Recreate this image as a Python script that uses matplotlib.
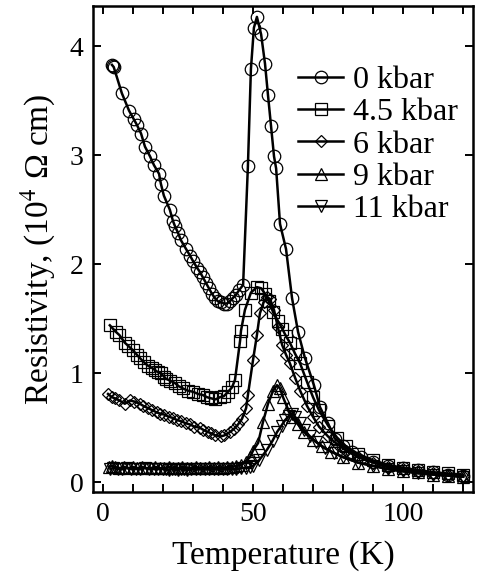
import matplotlib.pyplot as plt
from matplotlib.ticker import MultipleLocator

plt.rcParams['font.family'] = ['Liberation Serif', 'DejaVu Serif']
plt.rcParams['mathtext.fontset'] = 'stix'

# 0 kbar
t0 = [3.0, 3.3, 3.6, 6.3, 8.7, 10.3, 11.3, 12.7, 14.0, 15.7, 17.0, 18.7, 19.3, 20.3,
      22.3, 23.3, 24.0, 25.0, 26.0, 27.7, 29.0, 30.0, 31.3, 32.3, 33.3, 34.3, 35.3,
      36.3, 37.3, 38.3, 39.3, 40.3, 41.3, 42.3, 43.3, 44.3, 45.3, 46.7, 48.3, 49.3,
      50.3, 51.3, 52.7, 54.0, 55.0, 56.0, 57.0, 57.7, 59.0, 61.0, 63.0, 65.0, 67.3,
      70.3, 72.3, 75.0, 77.3, 80.0, 83.0, 86.0, 90.0, 95.0, 100.0, 105.0, 110.0,
      115.0, 120.0]
r0 = [3.83, 3.82, 3.81, 3.57, 3.41, 3.33, 3.28, 3.20, 3.08, 2.99, 2.91, 2.83, 2.74, 2.63,
      2.50, 2.40, 2.35, 2.29, 2.22, 2.14, 2.08, 2.03, 1.97, 1.93, 1.88, 1.83, 1.78,
      1.73, 1.69, 1.66, 1.65, 1.64, 1.64, 1.66, 1.69, 1.72, 1.76, 1.81, 2.90, 3.79,
      4.17, 4.27, 4.11, 3.84, 3.55, 3.27, 2.99, 2.88, 2.37, 2.14, 1.69, 1.38, 1.14,
      0.89, 0.69, 0.54, 0.40, 0.33, 0.28, 0.23, 0.19, 0.15, 0.13, 0.11, 0.09,
      0.07, 0.06]

# 4.5 kbar
t45 = [2.3, 4.3, 5.5, 7.3, 8.5, 10.0, 11.3, 12.3, 13.7, 15.0, 16.3, 17.3, 18.3, 19.3,
       20.3, 21.0, 22.5, 24.0, 25.3, 26.7, 28.3, 30.0, 31.7, 33.3, 34.7, 36.0, 37.5,
       39.0, 40.3, 41.7, 43.0, 44.0, 45.7, 46.0, 47.3, 49.3, 51.3, 52.7, 54.0, 55.3,
       56.7, 58.3, 59.7, 61.0, 62.3, 64.0, 65.7, 68.0, 70.0, 72.0, 75.0, 78.0, 81.0,
       85.0, 90.0, 95.0, 100.0, 105.0, 110.0, 115.0, 120.0]
r45 = [1.44, 1.38, 1.35, 1.28, 1.25, 1.21, 1.17, 1.14, 1.10, 1.07, 1.05, 1.03, 1.01, 1.00,
       0.97, 0.95, 0.93, 0.91, 0.88, 0.86, 0.84, 0.83, 0.81, 0.80, 0.78, 0.77, 0.76,
       0.78, 0.79, 0.83, 0.87, 0.94, 1.30, 1.39, 1.58, 1.74, 1.79, 1.78, 1.73, 1.66,
       1.56, 1.48, 1.41, 1.34, 1.28, 1.18, 1.09, 0.92, 0.78, 0.66, 0.52, 0.41, 0.33,
       0.26, 0.20, 0.16, 0.13, 0.11, 0.09, 0.08, 0.07]

# 6 kbar
t6 = [1.7, 3.0, 4.0, 5.5, 7.3, 9.0, 10.5, 12.3, 13.5, 15.0, 16.5, 18.0, 19.0, 20.5,
      22.0, 23.3, 24.7, 26.0, 27.7, 29.0, 30.5, 32.3, 33.5, 35.0, 36.0, 37.5, 39.3,
      40.5, 42.3, 43.7, 45.0, 46.3, 47.7, 48.3, 50.0, 51.3, 52.3, 53.5, 54.7, 55.7,
      57.0, 58.3, 59.7, 61.0, 62.3, 64.0, 65.7, 68.0, 70.0, 72.0, 75.0, 78.0, 81.0,
      85.0, 90.0, 95.0, 100.0, 105.0, 110.0, 115.0, 120.0]
r6 = [0.81, 0.78, 0.77, 0.75, 0.72, 0.75, 0.74, 0.72, 0.70, 0.68, 0.66, 0.64, 0.63, 0.62,
      0.60, 0.59, 0.57, 0.56, 0.54, 0.53, 0.51, 0.50, 0.48, 0.46, 0.45, 0.43, 0.42,
      0.43, 0.46, 0.49, 0.53, 0.58, 0.68, 0.80, 1.12, 1.35, 1.55, 1.65, 1.70, 1.68,
      1.58, 1.42, 1.26, 1.17, 1.09, 0.96, 0.84, 0.70, 0.60, 0.51, 0.42, 0.35, 0.29,
      0.23, 0.18, 0.14, 0.12, 0.10, 0.08, 0.07, 0.06]

# 9 kbar
t9 = [2.0, 3.0, 4.0, 5.5, 7.0, 8.5, 10.0, 11.5, 13.0, 14.5, 16.0, 17.5, 19.0, 20.5,
      22.0, 23.5, 25.0, 26.5, 28.0, 29.5, 31.0, 32.5, 34.0, 35.5, 37.0, 38.5, 40.0,
      41.5, 43.0, 44.5, 46.0, 47.5, 49.0, 50.0, 51.7, 53.3, 55.0, 56.7, 58.0, 59.0,
      60.0, 61.5, 63.0, 65.0, 67.0, 70.0, 73.0, 76.0, 80.0, 85.0, 90.0, 95.0, 100.0,
      105.0, 110.0, 115.0, 120.0]
r9 = [0.14, 0.15, 0.14, 0.13, 0.14, 0.13, 0.14, 0.13, 0.14, 0.13, 0.13, 0.14, 0.13, 0.13,
      0.14, 0.13, 0.13, 0.14, 0.13, 0.13, 0.14, 0.13, 0.13, 0.14, 0.13, 0.14, 0.13,
      0.14, 0.14, 0.15, 0.16, 0.19, 0.23, 0.29, 0.36, 0.55, 0.72, 0.84, 0.89, 0.86,
      0.78, 0.68, 0.60, 0.53, 0.46, 0.39, 0.33, 0.28, 0.23, 0.18, 0.15, 0.12, 0.10,
      0.09, 0.07, 0.06, 0.05]

# 11 kbar
t11 = [2.5, 3.5, 5.0, 6.5, 8.0, 9.5, 11.0, 12.5, 14.0, 15.5, 17.0, 18.5, 20.0, 21.0,
       22.0, 23.0, 24.0, 25.0, 26.0, 27.0, 28.0, 29.5, 31.0, 32.5, 34.0, 35.5, 37.0,
       38.5, 40.0, 41.5, 43.0, 44.5, 46.0, 47.5, 49.0, 50.0, 52.0, 54.7, 56.5, 58.0,
       59.5, 60.7, 62.0, 63.0, 64.0, 65.5, 67.0, 69.0, 71.0, 74.0, 77.0, 80.0, 85.0,
       90.0, 95.0, 100.0, 105.0, 110.0, 115.0, 120.0]
r11 = [0.12, 0.13, 0.12, 0.12, 0.13, 0.12, 0.12, 0.12, 0.13, 0.12, 0.12, 0.12, 0.12, 0.12,
       0.11, 0.12, 0.12, 0.11, 0.12, 0.12, 0.11, 0.12, 0.12, 0.12, 0.12, 0.12, 0.12,
       0.12, 0.12, 0.12, 0.12, 0.12, 0.13, 0.13, 0.14, 0.15, 0.20, 0.30, 0.38, 0.46,
       0.52, 0.57, 0.61, 0.63, 0.60, 0.54, 0.48, 0.42, 0.37, 0.31, 0.27, 0.23, 0.18,
       0.15, 0.12, 0.10, 0.08, 0.07, 0.06, 0.05]

series = [(t0, r0, 'o', 9, '0 kbar'),
          (t45, r45, 's', 8, '4.5 kbar'),
          (t6, r6, 'D', 6, '6 kbar'),
          (t9, r9, '^', 8.5, '9 kbar'),
          (t11, r11, 'v', 8.5, '11 kbar')]

fig = plt.figure(figsize=(4.78, 5.84), dpi=100)
ax = fig.add_axes([0.1946, 0.1575, 0.795, 0.8322])

for t, r, m, ms, lab in series:
    ax.plot(t, r, '-', color='black', linewidth=1.8, marker=m, markersize=ms,
            markerfacecolor='none', markeredgecolor='black', markeredgewidth=0.9,
            label=lab)

ax.set_xlim(-3.3, 123.3)
ax.set_ylim(-0.09, 4.37)
ax.xaxis.set_major_locator(MultipleLocator(50))
ax.xaxis.set_minor_locator(MultipleLocator(10))
ax.yaxis.set_major_locator(MultipleLocator(1))
ax.tick_params(which='both', direction='in', top=True, right=True, length=6,
               width=1.4, labelsize=20, pad=7)
for s in ax.spines.values():
    s.set_linewidth(1.8)

ax.set_xlabel('Temperature (K)', fontsize=24, labelpad=10)
ax.set_ylabel('Resistivity, (10$^{4}$ Ω cm)', fontsize=24, labelpad=8)

ax.legend(loc='upper left', bbox_to_anchor=(0.54, 0.877), frameon=False,
          fontsize=23, handlelength=1.4, handletextpad=0.3, labelspacing=0.09,
          borderpad=0, borderaxespad=0)

fig.savefig('out.png', dpi=100)
